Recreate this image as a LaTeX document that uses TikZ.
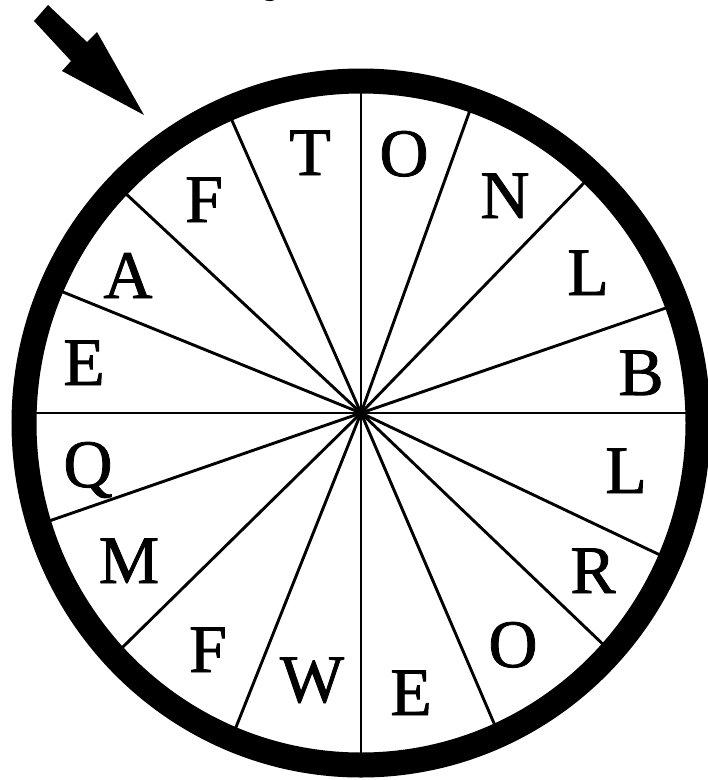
\documentclass[tikz,border=0pt]{standalone}
\usepackage{fontspec}
\setmainfont{Liberation Serif}
\newfontfamily\wheelfont{Liberation Serif}[FakeBold=1.2]
\usepackage{tikz}
\usetikzlibrary{positioning}

\begin{document}
\begin{tikzpicture}[x=1pt,y=-1pt,
          every node/.style={font=\wheelfont\fontsize{68}{68}\selectfont,inner sep=0pt,anchor=base},
          spoke/.style={line width=2.9pt},
          rim/.style={line width=25pt}]
        \useasboundingbox (0,0) rectangle (708,780);
        \coordinate (hub) at (361,413);
        \coordinate (mid) at (361,423);
        % spokes, cut at the rim
        \begin{scope}
          \clip (mid) ellipse [x radius=337pt, y radius=342pt];
          \foreach \a in {0,25.4,43.7,66.8,90,111.7,135.5,160.9,180,202.1,223,246.2,270,289.8,314.1,341}
            \draw[spoke] (hub) -- ++(\a:420);
        \end{scope}
        \draw[rim] (mid) ellipse [x radius=337pt, y radius=342pt];
        % pointer
        \fill (48,5) -- (34,21) -- (71,61) -- (62,71) -- (144,115) -- (97,32) -- (87,42) -- cycle;
        \node[anchor=base west] (ytop) at (264,-14) {y};
        % letters
        \node (t1) at (310,175) {T};
        \node (o1) at (404,176) {O};
        \node (n1) at (505,218) {N};
        \node (l1) at (588,295) {L};
        \node (b1) at (641,395) {B};
        \node (l2) at (626,493) {L};
        \node (r1) at (593,593) {R};
        \node (o2) at (513,667) {O};
        \node (e1) at (411,715) {E};
        \node (w1) at (312,702) {W};
        \node (f2) at (208,672) {F};
        \node (m1) at (129,583) {M};
        \node (q1) at (88,487) {Q};
        \node (e2) at (84,385) {E};
        \node (a1) at (128,298) {A};
        \node (f1) at (204,222) {F};
      \end{tikzpicture}
\end{document}
